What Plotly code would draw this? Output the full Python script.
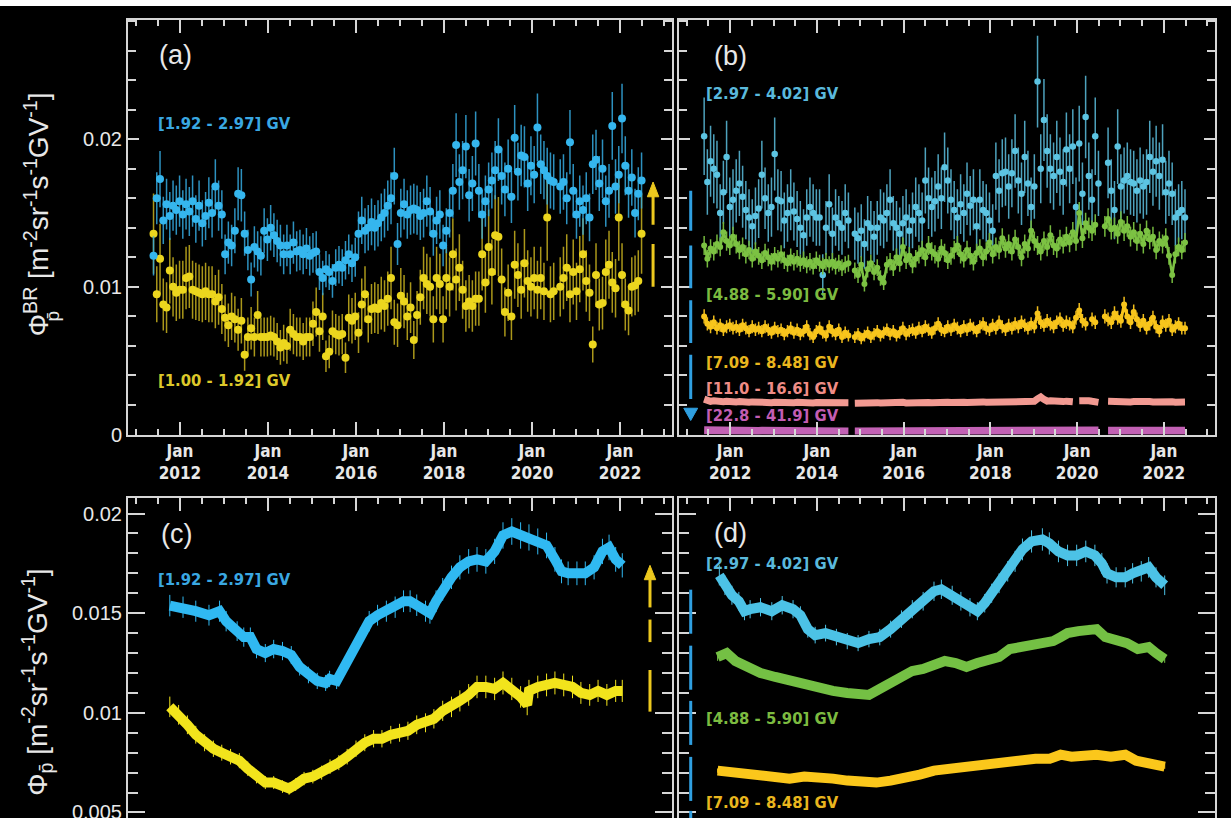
import numpy as np
import plotly.graph_objects as go

# ---------------------------------------------------------------- data
UNIT = 1e-4  # all flux values below are in units of 1e-4 m^-2 sr^-1 s^-1 GV^-1

# Bartels rotations (27-day periods) starting mid-May 2011
BR_T0 = 2011.40
BR_DAYS = 27
N_BR = 151
t_br = BR_T0 + np.arange(N_BR) * BR_DAYS / 365.25

# panel (a)
a_192_297 = [121, 160, 173, 145, 156, 148, 155, 152, 158, 149,
             156, 151, 158, 146, 155, 143, 148, 157, 150, 168,
             155, 149, 122, 130, 128, 138, 163, 162, 136, 125,
             105, 127, 124, 121, 138, 132, 140, 135, 131, 128,
             122, 128, 122, 130, 124, 125, 122, 126, 121, 123,
             124, 110, 106, 112, 110, 104, 113, 115, 113, 118,
             122, 116, 120, 136, 145, 138, 140, 144, 140, 143,
             147, 150, 155, 160, 175, 129, 150, 156, 149, 152,
             153, 152, 148, 150, 158, 151, 136, 145, 149, 128,
             138, 150, 165, 196, 171, 179, 195, 162, 170, 197,
             165, 149, 158, 166, 172, 179, 193, 175, 166, 180,
             161, 201, 178, 189, 188, 170, 182, 176, 208, 183,
             179, 175, 172, 171, None, 168, 171, 160, 198, 165,
             149, 158, 152, 160, 147, 183, 186, 170, 180, 158,
             165, 209, 168, 176, 214, 182, 165, 174, 150, 163,
             172]
a_100_192 = [136, 95, 119, 88, 86, 111, 100, 96, 98, 98,
             106, 107, 98, 97, 96, 95, 97, 95, 95, 90,
             93, 85, 79, 74, 80, 78, 71, 77, 54, 66,
             72, 66, 81, 66, 66, 66, 67, 66, 63, 59,
             62, 60, 71, 68, 66, 66, 63, 66, 66, 75,
             83, 70, 80, 53, 56, 70, 68, 67, 68, 52,
             79, 77, 80, 69, 88, 95, 78, 85, 86, 85,
             89, 87, 92, 106, 76, 74, 94, 90, 80, 86,
             64, 81, 93, 106, 102, 100, 78, 106, 102, 78,
             106, 100, 122, 105, 113, 98, 87, 90, 87, 92,
             92, 122, 103, 127, 110, 135, 134, 105, 83, 96,
             80, 115, 108, 98, 116, 104, 100, 106, 98, 106,
             97, 147, 95, 97, None, 100, 106, 113, 95, 110,
             97, 112, 122, 104, 96, 61, 108, 88, 89, 110,
             115, 103, 99, 147, 108, 88, 84, 100, 101, 104,
             136]

# panel (b)
b_297_402 = [202, 171, 185, 180, 176, 150, 164, 188, 154, 159,
             165, 170, 161, 152, 147, 141, 148, 153, 176, 160,
             150, 154, 190, 159, 158, 145, 150, 159, 151, 146,
             140, 135, 147, 154, 150, 147, 147, 108, 140, 156,
             136, 147, 143, 140, 150, 145, None, 136, 133, 138,
             129, 143, 140, 134, 140, 147, 145, 150, 159, 143,
             140, 136, 143, 147, 138, 145, 154, 150, 145, 172,
             160, 154, 158, 168, 160, 181, 172, 159, 152, 147,
             156, 150, 163, 155, 159, 141, 159, 152, 150, 145,
             138, 175, 165, 177, 178, 168, 177, 192, 172, 163,
             188, 170, 154, 168, 239, 180, 213, 192, 180, 175,
             188, 178, 171, 193, 180, 195, 154, 197, 163, 215,
             175, 159, 202, 170, None, None, 184, 165, 152, 195,
             168, 172, 175, 171, 170, 165, 172, 168, 171, 188,
             178, 185, 175, 186, 164, 170, 163, 147, 150, 152,
             147]
b_488_590 = [128, 119, 126, 124, 129, 127, 137, 131, 128, 134,
             129, 125, 127, 122, 125, 119, 124, 121, 118, 123,
             120, 117, 121, 119, 122, 118, 116, 120, 117, 119,
             116, 118, 115, 117, 114, 118, 116, 114, 117, 115,
             117, 114, 116, 113, 115, 116, None, 111, 108, 115,
             102, 112, 116, 110, 113, 106, 103, 115, 117, 113,
             120, 116, 127, 118, 121, 115, 119, 122, 125, 120,
             128, 124, 122, 119, 126, 123, 118, 121, 125, 128,
             122, 119, 125, 121, 117, 123, 126, 120, 124, 130,
             122, 127, 125, 133, 126, 129, 124, 132, 127, 120,
             129, 126, 138, 131, 128, 124, 131, 127, 135, 128,
             126, 132, 129, 134, 130, 137, 131, 150, 133, 143,
             140, 138, 142, None, None, 141, 146, 139, 140, 136,
             144, 138, 141, 134, 137, 131, 136, 129, 138, 132,
             134, 125, 131, 129, 133, 121, 108, 122, 127, 125,
             130]
b_709_848 = [80, 75, 73, 76, 72, 74, 71, 73, 74, 72,
             73, 71, 74, 72, 70, 73, 71, 72, 70, 73,
             71, 69, 72, 70, 71, 68, 70, 72, 69, 71,
             68, 70, 73, 68, 66, 70, 72, 69, 67, 73,
             70, 68, 71, 66, 69, 67, None, 66, 68, 65,
             67, 69, 66, 68, 70, 67, 69, 71, 68, 70,
             67, 69, 72, 68, 70, 71, 69, 72, 70, 73,
             71, 69, 72, 75, 71, 70, 73, 71, 74, 72,
             70, 73, 71, 74, 72, 70, 73, 75, 72, 71,
             74, 72, 76, 73, 71, 74, 72, 75, 73, 76,
             74, 72, 75, 73, 82, 76, 74, 77, 75, 73,
             76, 78, 74, 76, 75, 73, 79, 84, 77, 75,
             None, 78, 76, None, None, 80, 78, 76, 82, 79,
             77, 88, 80, 76, 83, 78, 74, 77, 72, 75,
             79, 73, 70, 76, 74, 77, 71, 73, 75, 72,
             72]
b_110_166 = [24.0, 23.0, 22.5, 22.8, 22.3, 22.6, 22.2, 22.5, 22.0, 22.4,
             22.1, 22.3, 21.9, 22.2, 21.8, 22.1, 21.9, 22.0, 21.7, 22.0,
             21.8, 21.6, 21.9, 21.7, 21.8, 21.5, 21.7, 21.9, 21.6, 21.8,
             21.5, 21.7, 21.9, 21.6, 21.4, 21.7, 21.8, 21.5, 21.6, 21.8,
             21.5, 21.7, 21.6, 21.4, 21.7, 21.6, None, 21.2, 21.4, 21.1,
             21.3, 21.5, 21.2, 21.4, 21.6, 21.3, 21.5, 21.7, 21.4, 21.6,
             21.3, 21.5, 21.8, 21.4, 21.6, 21.7, 21.5, 21.8, 21.6, 21.9,
             21.7, 21.5, 21.8, 22.0, 21.7, 21.6, 21.9, 21.7, 22.0, 21.8,
             21.6, 21.9, 21.7, 22.0, 21.8, 21.7, 22.0, 22.1, 21.8, 21.9,
             22.1, 21.9, 22.2, 22.0, 21.9, 22.2, 22.0, 22.3, 22.1, 22.4,
             22.2, 22.0, 22.3, 22.5, 24.2, 25.5, 23.8, 22.6, 22.8, 22.4,
             22.7, 22.5, 22.3, 22.6, 22.4, 22.2, None, 22.8, 23.2, 22.6,
             22.9, 22.5, 22.2, 21.8, None, None, 22.6, 22.4, 22.7, 22.3,
             22.5, 22.2, 22.4, 22.1, 22.3, 22.5, 22.2, 22.4, 22.1, 22.3,
             22.0, 22.2, 22.4, 22.1, 22.3, 22.0, 22.2, 21.9, 22.1, 21.8,
             22.0]
b_228_419 = [2.9, 2.8, 2.8, 2.7, 2.7, 2.7, 2.6, 2.7, 2.6, 2.6,
             2.6, 2.5, 2.6, 2.5, 2.5, 2.5, 2.5, 2.4, 2.5, 2.4,
             2.4, 2.4, 2.4, 2.3, 2.4, 2.3, 2.3, 2.4, 2.3, 2.3,
             2.3, 2.3, 2.2, 2.3, 2.2, 2.2, 2.3, 2.2, 2.2, 2.2,
             2.2, 2.2, 2.1, 2.2, 2.1, 2.1, None, 2.1, 2.1, 2.1,
             2.1, 2.1, 2.1, 2.1, 2.1, 2.1, 2.1, 2.1, 2.1, 2.2,
             2.1, 2.2, 2.2, 2.2, 2.2, 2.2, 2.2, 2.2, 2.2, 2.3,
             2.2, 2.3, 2.3, 2.3, 2.3, 2.3, 2.3, 2.3, 2.3, 2.4,
             2.3, 2.4, 2.4, 2.4, 2.4, 2.4, 2.4, 2.4, 2.4, 2.5,
             2.4, 2.5, 2.5, 2.5, 2.5, 2.5, 2.5, 2.5, 2.6, 2.5,
             2.6, 2.6, 2.6, 2.6, 2.7, 2.8, 2.7, 2.6, 2.6, 2.6,
             2.6, 2.6, 2.6, 2.6, 2.6, 2.6, 2.7, 2.7, 2.7, 2.7,
             2.7, 2.7, 2.7, 2.7, None, None, 2.6, 2.6, 2.6, 2.6,
             2.6, 2.6, 2.6, 2.6, 2.6, 2.6, 2.6, 2.6, 2.6, 2.6,
             2.6, 2.6, 2.6, 2.6, 2.6, 2.5, 2.5, 2.5, 2.5, 2.5,
             2.5]

# panel (c): daily fluxes, read at selected epochs (decimal year)
c_t_192_297 = [2011.77, 2012.07, 2012.36, 2012.66, 2012.90, 2013.05, 2013.30, 2013.45,
               2013.60, 2013.74, 2013.94, 2014.13, 2014.33, 2014.53, 2014.72, 2014.92,
               2015.12, 2015.31, 2015.40, 2015.56, 2015.71, 2015.90, 2016.10, 2016.30,
               2016.49, 2016.69, 2016.89, 2017.08, 2017.23, 2017.38, 2017.58, 2017.68,
               2017.82, 2017.97, 2018.17, 2018.36, 2018.56, 2018.75, 2018.95, 2019.15,
               2019.34, 2019.54, 2019.74, 2019.93, 2020.13, 2020.33, 2020.52, 2020.67,
               2020.82, 2021.02, 2021.21, 2021.41, 2021.60, 2021.75, 2021.90, 2022.05]
c_v_192_297 = [153.8, 153, 151, 149, 151, 146, 141, 138,
               138, 132, 130, 132, 131, 129, 123, 119,
               116, 115, 117, 116, 122, 130, 138, 146,
               149, 151, 153, 156, 156, 154, 151, 150,
               156, 162, 168, 173, 176, 177, 176, 181,
               189, 191, 189, 188, 186, 184, 177, 171,
               170, 170, 170, 173, 181, 183, 177, 174]
c_t_100_192 = [2011.77, 2011.97, 2012.17, 2012.36, 2012.56, 2012.76, 2012.95, 2013.15,
               2013.35, 2013.54, 2013.74, 2013.94, 2014.13, 2014.33, 2014.48, 2014.63,
               2014.82, 2015.02, 2015.22, 2015.41, 2015.61, 2015.80, 2016.00, 2016.20,
               2016.40, 2016.59, 2016.79, 2016.99, 2017.18, 2017.38, 2017.58, 2017.77,
               2017.97, 2018.17, 2018.36, 2018.56, 2018.75, 2018.95, 2019.15, 2019.34,
               2019.54, 2019.74, 2019.89, 2019.93, 2020.13, 2020.33, 2020.52, 2020.72,
               2020.92, 2021.11, 2021.31, 2021.50, 2021.70, 2021.90, 2022.05]
c_v_100_192 = [103, 99, 94, 89, 85, 82, 80, 78,
               76, 72, 68, 65, 65, 63, 62, 64,
               67, 68, 70, 73, 75, 78, 82, 85,
               87, 87, 89, 90, 91, 94, 95, 97,
               101, 103, 106, 109, 113, 113, 112, 115,
               112, 108, 104, 111, 113, 114, 115, 114,
               113, 110, 109, 111, 109, 111, 111]

# panel (d)
d_t_297_402 = [2011.75, 2011.88, 2012.04, 2012.20, 2012.33, 2012.46, 2012.70, 2012.96,
               2013.20, 2013.45, 2013.62, 2013.79, 2013.96, 2014.20, 2014.45, 2014.70,
               2014.95, 2015.20, 2015.45, 2015.70, 2015.95, 2016.20, 2016.45, 2016.70,
               2016.87, 2017.12, 2017.32, 2017.53, 2017.70, 2017.87, 2018.03, 2018.20,
               2018.40, 2018.57, 2018.74, 2018.95, 2019.20, 2019.36, 2019.57, 2019.78,
               2019.99, 2020.20, 2020.41, 2020.57, 2020.69, 2020.90, 2021.11, 2021.28,
               2021.48, 2021.65, 2021.82, 2022.02]
d_v_297_402 = [169, 164, 159, 156, 151, 152, 153, 151,
               154, 152, 149, 142, 139, 140, 138, 136,
               135, 137, 138, 142, 147, 152, 156, 161,
               162, 159, 156, 153, 151, 155, 160, 165,
               171, 176, 182, 186, 187, 185, 181, 179,
               179, 181, 179, 175, 170, 168, 168, 170,
               171, 173, 168, 164]
d_t_488_590 = [2011.71, 2011.92, 2012.12, 2012.37, 2012.70, 2013.04, 2013.37, 2013.71,
               2014.04, 2014.37, 2014.70, 2015.04, 2015.20, 2015.45, 2015.70, 2015.95,
               2016.20, 2016.45, 2016.70, 2016.95, 2017.20, 2017.45, 2017.70, 2017.95,
               2018.20, 2018.45, 2018.70, 2018.95, 2019.20, 2019.45, 2019.62, 2019.78,
               2020.03, 2020.28, 2020.45, 2020.65, 2020.90, 2021.15, 2021.40, 2021.65,
               2021.82, 2022.02]
d_v_488_590 = [128, 130, 126, 123, 120, 118, 116, 115,
               113, 111, 110, 109, 109, 112, 115, 118,
               121, 122, 124, 126, 125, 123, 125, 126,
               128, 132, 133, 134, 135, 136, 138, 140,
               141, 142, 142, 138, 137, 135, 132, 133,
               130, 127]
d_t_709_848 = [2011.71, 2012.04, 2012.37, 2012.70, 2013.04, 2013.37, 2013.71, 2014.04,
               2014.37, 2014.70, 2015.04, 2015.37, 2015.70, 2016.04, 2016.37, 2016.70,
               2017.04, 2017.37, 2017.70, 2018.04, 2018.37, 2018.70, 2019.04, 2019.37,
               2019.62, 2019.87, 2020.20, 2020.45, 2020.78, 2021.11, 2021.36, 2021.70,
               2022.02]
d_v_709_848 = [71, 70, 70, 69, 68, 67, 68, 68,
               67, 66, 65, 65, 66, 67, 69, 71,
               72, 73, 74, 74, 75, 76, 77, 77,
               79, 78, 79, 79, 78, 79, 76, 75,
               73]

label_years = [2012, 2014, 2016, 2018, 2020, 2022]


def flux(v):
    return np.array(v, dtype=float) * UNIT


# ---------------------------------------------------------------- style
W = 1231          # figure width (px)
REF_H = 818       # height of the reference picture; layout positions below use it
FIG_H = 830       # page height that the photograph is taken of
LC = "#d6d6d6"
TXT = "#e8e8e8"
NARROW = "Liberation Sans Narrow, DejaVu Sans Condensed, Arial Narrow, sans-serif"
SANS = "Liberation Sans, Arial, Helvetica, sans-serif"


def px(x):
    return x / W


def py(y):
    return 1 - y / REF_H


XR = [2010.82, 2023.18]
DOM_X_L = [px(128), px(672)]
DOM_X_R = [px(679), px(1215)]
DOM_Y_T = [py(434), py(20)]
DOM_Y_B = [0.0, py(497)]

fig = go.Figure()


def add_points(x, y, color, ecolor, size, perr, xa, ya, ethick=1.5, mode="markers", lw=0):
    fig.add_trace(go.Scatter(
        x=x, y=y, mode=mode, xaxis=xa, yaxis=ya,
        marker=dict(size=size, color=color),
        line=dict(color=color, width=lw),
        error_y=dict(type="percent", value=perr, color=ecolor, thickness=ethick, width=0),
        hoverinfo="skip"))


def add_band(x, y, color, width, xa, ya, perr=0.0, ethick=1.0):
    fig.add_trace(go.Scatter(
        x=x, y=y, mode="lines", xaxis=xa, yaxis=ya,
        line=dict(color=color, width=width),
        error_y=dict(type="percent", value=perr, color=color, thickness=ethick, width=0),
        hoverinfo="skip"))


# (a)
add_points(t_br, flux(a_100_192), "#ecd61e", "rgba(200,178,30,0.85)", 8, 20, "x", "y")
add_points(t_br, flux(a_192_297), "#35b6ee", "rgba(53,170,225,0.85)", 8, 11, "x", "y")

# (b)
add_band(t_br, flux(b_228_419), "#c261b4", 8, "x2", "y2")
add_band(t_br, flux(b_110_166), "#f29a92", 7, "x2", "y2")
add_points(t_br, flux(b_709_848), "#f8c51c", "#f0bc1c", 6, 6, "x2", "y2", mode="lines+markers", lw=3)
add_points(t_br, flux(b_297_402), "#5cc4e2", "rgba(92,190,222,0.85)", 6.5, 13, "x2", "y2")
add_points(t_br, flux(b_488_590), "#7cc243", "#74b83e", 6, 5, "x2", "y2", mode="lines+markers", lw=2.5)

# (c)
add_band(c_t_100_192, flux(c_v_100_192), "#f2e41c", 10, "x3", "y3", perr=5)
add_band(c_t_192_297, flux(c_v_192_297), "#30b9f2", 10, "x3", "y3", perr=3.5)

# (d)
add_band(d_t_709_848, flux(d_v_709_848), "#fbc71b", 10, "x4", "y4", perr=1.5)
add_band(d_t_488_590, flux(d_v_488_590), "#74c044", 10, "x4", "y4", perr=1.5)
add_band(d_t_297_402, flux(d_v_297_402), "#4cc2e6", 10, "x4", "y4", perr=3)


# ---------------------------------------------------------------- axes
def xaxis(domain, anchor, side):
    d = dict(domain=domain, anchor=anchor, range=XR, showline=True, linecolor=LC, linewidth=2,
             ticks="inside", ticklen=13, tickwidth=2, tickcolor=LC,
             tickmode="array", tickvals=label_years,
             ticktext=[f"<b>Jan<br>{y}</b>" for y in label_years],
             minor=dict(tickmode="linear", tick0=2011.0, dtick=0.5, ticks="inside",
                        ticklen=6, tickwidth=2, tickcolor=LC),
             showgrid=False, zeroline=False, side=side,
             tickfont=dict(family=NARROW, size=17, color=TXT))
    if side == "bottom":
        d["mirror"] = "ticks"
    else:
        d["showticklabels"] = False
    return d


def yaxis(domain, anchor, rng, dtick, mdtick, labels, maj_len, min_len):
    return dict(domain=domain, anchor=anchor, range=rng, showline=True, linecolor=LC, linewidth=2,
                mirror="ticks", ticks="inside", ticklen=maj_len, tickwidth=2, tickcolor=LC,
                tickmode="linear", tick0=0, dtick=dtick,
                minor=dict(tickmode="linear", tick0=0, dtick=mdtick, ticks="inside",
                           ticklen=min_len, tickwidth=2, tickcolor=LC),
                showgrid=False, zeroline=False, showticklabels=labels,
                tickfont=dict(family=SANS, size=20, color=TXT))


YR_T = [0, 0.02807]
YR_B = [0.004673, 0.02080]

fig.update_layout(
    width=W, height=FIG_H, margin=dict(l=0, r=0, t=0, b=0),
    paper_bgcolor="black", plot_bgcolor="black", showlegend=False,
    xaxis=xaxis(DOM_X_L, "y", "bottom"),
    yaxis=yaxis(DOM_Y_T, "x", YR_T, 0.01, 0.002, True, 11, 8),
    xaxis2=xaxis(DOM_X_R, "y2", "bottom"),
    yaxis2=yaxis(DOM_Y_T, "x2", YR_T, 0.01, 0.002, False, 11, 8),
    xaxis3=xaxis(DOM_X_L, "y3", "top"),
    yaxis3=yaxis(DOM_Y_B, "x3", YR_B, 0.005, 0.001, True, 17, 10),
    xaxis4=xaxis(DOM_X_R, "y4", "top"),
    yaxis4=yaxis(DOM_Y_B, "x4", YR_B, 0.005, 0.001, False, 17, 10),
)

# ---------------------------------------------------------------- decorations
shapes = []
# white strip at the very top
shapes.append(dict(type="rect", xref="paper", yref="paper", x0=0, x1=1, y0=py(6), y1=1,
                   fillcolor="white", line=dict(width=0), layer="above"))


def seg(xa, ya, x, y0, y1, color, w=3):
    shapes.append(dict(type="line", xref=xa, yref=ya, x0=x, x1=x, y0=y0, y1=y1,
                       line=dict(color=color, width=w)))


def head(xa, ya, x, ybase, ytip, hw, color):
    shapes.append(dict(type="path", xref=xa, yref=ya,
                       path=f"M {x - hw},{ybase} L {x + hw},{ybase} L {x},{ytip} Z",
                       fillcolor=color, line=dict(color=color, width=1)))


YEL = "#ecc81e"
BLU = "#2f9fe0"
# (a) up arrow
XA_ARR = 2022.75
seg("x", "y", XA_ARR, 0.0100, 0.0129, YEL)
seg("x", "y", XA_ARR, 0.0142, 0.0162, YEL)
head("x", "y", XA_ARR, 0.0161, 0.0171, 0.13, YEL)
# (b) dashed down arrow
XB_ARR = 2011.09
for lo, hi in [(0.0138, 0.0165), (0.0099, 0.0128), (0.0062, 0.0091), (0.0024, 0.0054)]:
    seg("x2", "y2", XB_ARR, lo, hi, BLU)
head("x2", "y2", XB_ARR, 0.00178, 0.00095, 0.16, BLU)
# (c) up arrow
XC_ARR = 2022.68
seg("x3", "y3", XC_ARR, 0.01006, 0.01215, YEL)
seg("x3", "y3", XC_ARR, 0.01355, 0.01468, YEL)
seg("x3", "y3", XC_ARR, 0.01529, 0.01670, YEL)
head("x3", "y3", XC_ARR, 0.01668, 0.01740, 0.13, YEL)
# (d) dashed segments
XD_ARR = 2011.09
for lo, hi in [(0.01397, 0.01618), (0.01116, 0.01337), (0.00839, 0.01060),
               (0.00558, 0.00779), (0.00390, 0.00508)]:
    seg("x4", "y4", XD_ARR, lo, hi, BLU)

fig.update_layout(shapes=shapes)

# ---------------------------------------------------------------- text
ann = []


def txt(x, y, s, color, size, family=NARROW, bold=True, xanchor="left", angle=0):
    ann.append(dict(x=px(x), y=py(y), xref="paper", yref="paper", showarrow=False,
                    text=f"<b>{s}</b>" if bold else s, textangle=angle,
                    xanchor=xanchor, yanchor="middle",
                    font=dict(family=family, size=size, color=color)))


for lab, xx, yy in [("(a)", 175, 55), ("(b)", 730, 56), ("(c)", 176, 533), ("(d)", 730, 532)]:
    txt(xx, yy, lab, TXT, 27, family=SANS, bold=False, xanchor="center")

LS = 16.5
txt(156, 123, "[1.92 - 2.97] GV", "#3aa8e2", LS)
txt(156, 380, "[1.00 - 1.92] GV", "#dcc82a", LS)
txt(704, 93, "[2.97 - 4.02] GV", "#5ab9dc", LS)
txt(704, 294, "[4.88 - 5.90] GV", "#7cbb40", LS)
txt(704, 362, "[7.09 - 8.48] GV", "#e9b61e", LS)
txt(704, 388, "[11.0 - 16.6] GV", "#ef8c86", LS)
txt(704, 415, "[22.8 - 41.9] GV", "#c35db3", LS)
txt(156, 579, "[1.92 - 2.97] GV", "#3aa8e2", LS)
txt(704, 563, "[2.97 - 4.02] GV", "#5ab9dc", LS)
txt(704, 718, "[4.88 - 5.90] GV", "#7cbb40", LS)
txt(704, 802, "[7.09 - 8.48] GV", "#e9b61e", LS)

UNITS = "[m<sup>-2</sup>sr<sup>-1</sup>s<sup>-1</sup>GV<sup>-1</sup>]"
txt(37, 214, "Φ<sup>BR</sup> " + UNITS, TXT, 28, family=SANS, bold=False,
    xanchor="center", angle=-90)
txt(52, 316, "p\u0304", TXT, 19, family=SANS, bold=False, xanchor="center", angle=-90)
txt(37, 682, "Φ<sub>p\u0304</sub> " + UNITS, TXT, 28, family=SANS, bold=False,
    xanchor="center", angle=-90)

fig.update_layout(annotations=ann)

# no page margin, black page background, no scrollbars
PAGE_FIX = (
    "document.documentElement.style.margin='0px';"
    "document.documentElement.style.overflow='hidden';"
    "document.documentElement.style.background='black';"
    "document.body.style.margin='0px';"
    "document.body.style.overflow='hidden';"
    "document.body.style.background='black';"
)

fig.write_html("out.html", config={"displayModeBar": False}, post_script=PAGE_FIX)
